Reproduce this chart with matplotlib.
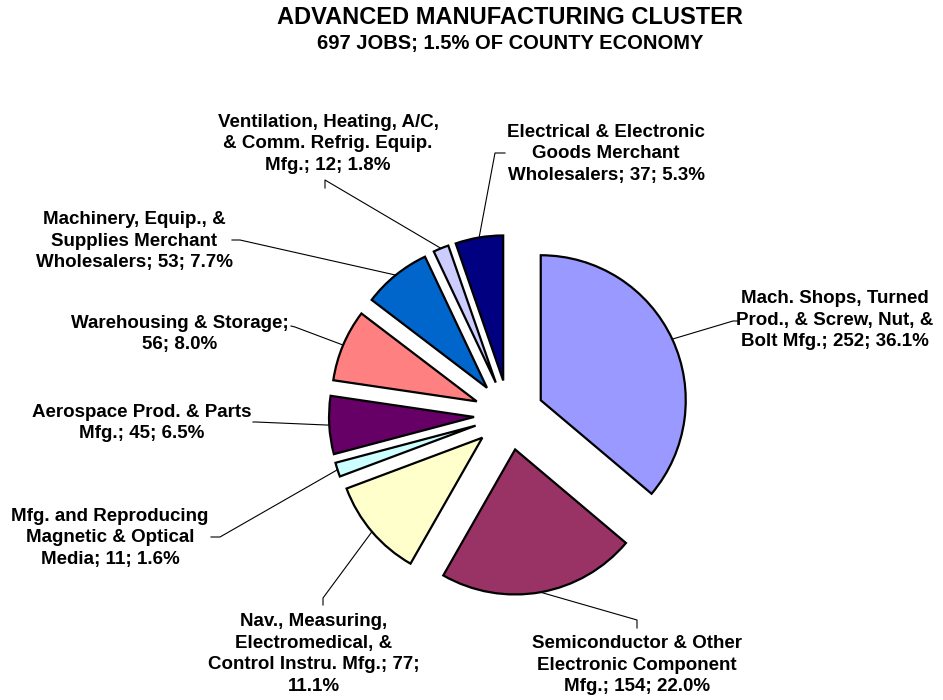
import matplotlib
matplotlib.use("Agg")
import matplotlib.pyplot as plt
import numpy as np

plt.rcParams['font.family'] = ['Liberation Sans', 'DejaVu Sans']
plt.rcParams['font.weight'] = 'bold'

# data
categories = [
    "Mach. Shops, Turned Prod., & Screw, Nut, & Bolt Mfg.",
    "Semiconductor & Other Electronic Component Mfg.",
    "Nav., Measuring, Electromedical, & Control Instru. Mfg.",
    "Mfg. and Reproducing Magnetic & Optical Media",
    "Aerospace Prod. & Parts Mfg.",
    "Warehousing & Storage",
    "Machinery, Equip., & Supplies Merchant Wholesalers",
    "Ventilation, Heating, A/C, & Comm. Refrig. Equip. Mfg.",
    "Electrical & Electronic Goods Merchant Wholesalers",
]
jobs = [252, 154, 77, 11, 45, 56, 53, 12, 37]
shares = [36.1, 22.0, 11.1, 1.6, 6.5, 8.0, 7.7, 1.8, 5.3]
colors = ["#9999FF", "#993366", "#FFFFCC", "#CCFFFF", "#660066",
          "#FF8080", "#0066CC", "#CCCCFF", "#000080"]

# label text as it wraps in the original
label_texts = [
    "Mach. Shops, Turned\nProd., & Screw, Nut, &\nBolt Mfg.; 252; 36.1%",
    "Semiconductor & Other\nElectronic Component\nMfg.; 154; 22.0%",
    "Nav., Measuring,\nElectromedical, &\nControl Instru. Mfg.; 77;\n11.1%",
    "Mfg. and Reproducing\nMagnetic & Optical\nMedia; 11; 1.6%",
    "Aerospace Prod. & Parts\nMfg.; 45; 6.5%",
    "Warehousing & Storage;\n56; 8.0%",
    "Machinery, Equip., &\nSupplies Merchant\nWholesalers; 53; 7.7%",
    "Ventilation, Heating, A/C,\n& Comm. Refrig. Equip.\nMfg.; 12; 1.8%",
    "Electrical & Electronic\nGoods Merchant\nWholesalers; 37; 5.3%",
]

# layout (pixel coords, y down)
label_pos = [(835, 320), (637, 665), (314, 654), (110, 538), (142, 423),
             (180, 334), (134, 241), (328, 144), (606, 154)]
# stub of each leader line next to its label: (outer end, bend)
leader_stub = [((738, 321), (733, 321)), ((637, 628), (637, 620)),
               ((323, 605), (323, 598)), ((211, 537), (220, 537)),
               ((253, 422), (256, 422)), ((291, 326), (295, 327)),
               ((232, 240), (240, 240)), ((325, 188), (325, 180)),
               ((505, 153), (495, 153))]

W, H = 943, 700
cx, cy = 509, 415
radius = 145
offset = 35


def py(y):
    return H - y


fig = plt.figure(figsize=(9.43, 7.0), dpi=100)
ax = fig.add_axes([0, 0, 1, 1])

ax.pie(jobs, colors=colors, startangle=90, counterclock=False,
       center=(cx, py(cy)), radius=radius, explode=[offset] * len(jobs),
       wedgeprops=dict(edgecolor='black', linewidth=1.6))
ax.set_xlim(0, W)
ax.set_ylim(0, H)
ax.set_aspect('equal')
ax.axis('off')

# leader lines to the middle of each arc
total = float(sum(jobs))
start = 0.0
for i, v in enumerate(jobs):
    mid = np.deg2rad((start + v / 2) / total * 360)
    start += v
    r = radius + offset
    ex = cx + r * np.sin(mid)
    ey = cy - r * np.cos(mid)
    (ax0, ay0), (bx, by) = leader_stub[i]
    ax.plot([ax0, bx, ex], [py(ay0), py(by), py(ey)], color='black', lw=0.8)
    lx, ly = label_pos[i]
    ax.text(lx, py(ly), label_texts[i], ha='center', va='center',
            fontsize=13.5, fontweight='bold', linespacing=1.35)

ax.text(510, py(18), "ADVANCED MANUFACTURING CLUSTER", ha='center',
        va='center', fontsize=17, fontweight='bold')
ax.text(510, py(43), "697 JOBS; 1.5% OF COUNTY ECONOMY", ha='center',
        va='center', fontsize=14.5, fontweight='bold')

fig.savefig("out.png", dpi=100)
